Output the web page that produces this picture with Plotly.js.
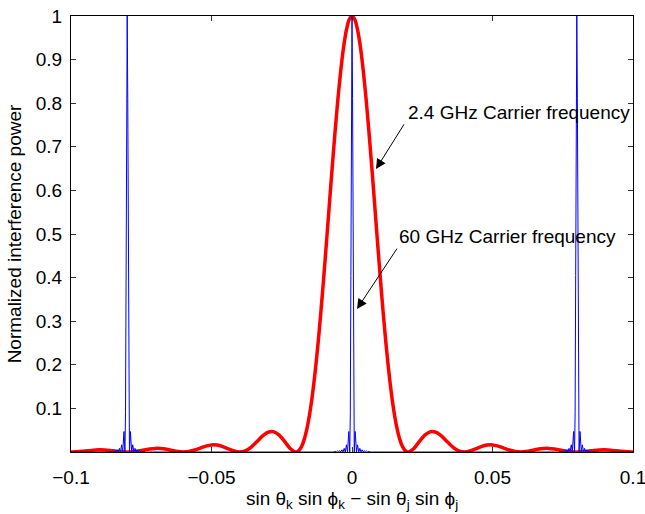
<!DOCTYPE html>
<html>
<head>
<meta charset="utf-8">
<script src="https://cdn.plot.ly/plotly-3.0.1.min.js"></script>
<style>html,body{margin:0;padding:0;background:#fff;}#plot{width:645px;height:514px;}</style>
</head>
<body>
<div id="plot"></div>
<script>
// 2.4 GHz carrier (red)
const redX = [-0.100,-0.098,-0.096,-0.094,-0.092,-0.090,-0.088,-0.086,-0.084,-0.082,-0.080,-0.078,-0.076,-0.074,-0.072,-0.070,-0.068,-0.066,-0.064,-0.062,-0.060,-0.058,-0.056,-0.054,-0.052,-0.050,-0.048,-0.046,-0.044,-0.042,-0.040,-0.038,-0.036,-0.034,-0.032,-0.030,-0.028,-0.026,-0.024,-0.022,-0.020,-0.019,-0.018,-0.017,-0.016,-0.015,-0.014,-0.013,-0.012,-0.011,-0.010,-0.009,-0.008,-0.007,-0.006,-0.005,-0.004,-0.003,-0.002,-0.001,0.000,0.001,0.002,0.003,0.004,0.005,0.006,0.007,0.008,0.009,0.010,0.011,0.012,0.013,0.014,0.015,0.016,0.017,0.018,0.019,0.020,0.022,0.024,0.026,0.028,0.030,0.032,0.034,0.036,0.038,0.040,0.042,0.044,0.046,0.048,0.050,0.052,0.054,0.056,0.058,0.060,0.062,0.064,0.066,0.068,0.070,0.072,0.074,0.076,0.078,0.080,0.082,0.084,0.086,0.088,0.090,0.092,0.094,0.096,0.098,0.100];
const redY = [0.0000,0.0004,0.0015,0.0030,0.0043,0.0050,0.0047,0.0036,0.0020,0.0006,0.0000,0.0006,0.0024,0.0048,0.0071,0.0083,0.0079,0.0061,0.0034,0.0010,0.0000,0.0012,0.0045,0.0091,0.0136,0.0162,0.0159,0.0125,0.0072,0.0022,0.0000,0.0027,0.0108,0.0229,0.0358,0.0450,0.0468,0.0392,0.0243,0.0080,0.0000,0.0028,0.0120,0.0289,0.0547,0.0901,0.1353,0.1904,0.2546,0.3268,0.4053,0.4881,0.5729,0.6566,0.7368,0.8106,0.8751,0.9282,0.9675,0.9918,1.0000,0.9918,0.9675,0.9282,0.8751,0.8106,0.7368,0.6566,0.5729,0.4881,0.4053,0.3268,0.2546,0.1904,0.1353,0.0901,0.0547,0.0289,0.0120,0.0028,0.0000,0.0080,0.0243,0.0392,0.0468,0.0450,0.0358,0.0229,0.0108,0.0027,0.0000,0.0022,0.0072,0.0125,0.0159,0.0162,0.0136,0.0091,0.0045,0.0012,0.0000,0.0010,0.0034,0.0061,0.0079,0.0083,0.0071,0.0048,0.0024,0.0006,0.0000,0.0006,0.0020,0.0036,0.0047,0.0050,0.0043,0.0030,0.0015,0.0004,0.0000];

// 60 GHz carrier (blue): narrow lobes at -0.08, 0, 0.08
const blueX = [-0.1,
-0.0864,-0.0860,-0.0856,-0.0852,-0.0848,-0.0844,-0.0840,-0.08358,-0.0832,-0.08278,-0.0824,-0.08197,-0.0816,-0.08114,-0.0808,-0.0806,-0.0804,-0.0802,-0.0800,-0.0798,-0.0796,-0.0794,-0.0792,-0.07886,-0.0784,-0.07803,-0.0776,-0.07722,-0.0768,-0.07642,-0.0760,-0.0756,-0.0752,-0.0748,-0.0744,-0.0740,-0.0736,
-0.0064,-0.0060,-0.0056,-0.0052,-0.0048,-0.0044,-0.0040,-0.00358,-0.0032,-0.00278,-0.0024,-0.00197,-0.0016,-0.00114,-0.0008,-0.0006,-0.0004,-0.0002,0.0000,0.0002,0.0004,0.0006,0.0008,0.00114,0.0016,0.00197,0.0024,0.00278,0.0032,0.00358,0.0040,0.0044,0.0048,0.0052,0.0056,0.0060,0.0064,
0.0736,0.0740,0.0744,0.0748,0.0752,0.0756,0.0760,0.07642,0.0768,0.07722,0.0776,0.07803,0.0784,0.07886,0.0792,0.0794,0.0796,0.0798,0.0800,0.0802,0.0804,0.0806,0.0808,0.08114,0.0816,0.08197,0.0824,0.08278,0.0832,0.08358,0.0840,0.0844,0.0848,0.0852,0.0856,0.0860,0.0864,
0.1];
const blueY = [0,
0,0.0018,0,0.0024,0,0.0033,0,0.0050,0,0.0083,0,0.0165,0,0.0470,0,0.090,0.405,0.811,1.000,0.811,0.405,0.090,0,0.0470,0,0.0165,0,0.0083,0,0.0050,0,0.0033,0,0.0024,0,0.0018,0,
0,0.0018,0,0.0024,0,0.0033,0,0.0050,0,0.0083,0,0.0165,0,0.0470,0,0.090,0.405,0.811,1.000,0.811,0.405,0.090,0,0.0470,0,0.0165,0,0.0083,0,0.0050,0,0.0033,0,0.0024,0,0.0018,0,
0,0.0018,0,0.0024,0,0.0033,0,0.0050,0,0.0083,0,0.0165,0,0.0470,0,0.090,0.405,0.811,1.000,0.811,0.405,0.090,0,0.0470,0,0.0165,0,0.0083,0,0.0050,0,0.0033,0,0.0024,0,0.0018,0,
0];

const xTickVals = [-0.1,-0.05,0,0.05,0.1];
const xTickText = ['\u22120.1','\u22120.05','0','0.05','0.1'];
const yTickVals = [0.1,0.2,0.3,0.4,0.5,0.6,0.7,0.8,0.9,1];
const yTickText = ['0.1','0.2','0.3','0.4','0.5','0.6','0.7','0.8','0.9','1'];

const FONT = 'Liberation Sans, Arial, Helvetica, sans-serif';
const FS = 19;

const traces = [
  {x: redX, y: redY, type:'scatter', mode:'lines', line:{color:'#ff0000', width:3.5, shape:'spline', smoothing:0.6}, hoverinfo:'skip'},
  {x: blueX, y: blueY, type:'scatter', mode:'lines', line:{color:'#0000ff', width:1}, hoverinfo:'skip'}
];

const layout = {
  width:645, height:514,
  margin:{l:71, r:12, t:16, b:62},
  paper_bgcolor:'#fff', plot_bgcolor:'#fff',
  showlegend:false,
  font:{family:FONT, size:FS, color:'#000'},
  xaxis:{
    range:[-0.1,0.1], tickvals:xTickVals, ticktext:xTickText,
    ticks:'inside', ticklen:5, tickcolor:'#333', tickwidth:1,
    showline:true, linecolor:'#000', linewidth:1, mirror:'allticks',
    showgrid:false, zeroline:false, ticklabelstandoff:8, ticklabeloverflow:'allow',
    tickfont:{family:FONT, size:FS, color:'#000'},
    title:{text:'sin \u03b8<sub>k</sub> sin \u03d5<sub>k</sub> \u2212 sin \u03b8<sub>j</sub> sin \u03d5<sub>j</sub>', font:{family:FONT, size:19, color:'#000'}, standoff:2}
  },
  yaxis:{
    range:[0,1], tickvals:yTickVals, ticktext:yTickText,
    ticks:'inside', ticklen:5, tickcolor:'#333', tickwidth:1,
    showline:true, linecolor:'#000', linewidth:1, mirror:'allticks',
    showgrid:false, zeroline:false, ticklabelstandoff:4, ticklabeloverflow:'allow',
    tickfont:{family:FONT, size:FS, color:'#000'},
    title:{text:'Normalized interference power', font:{family:FONT, size:FS, color:'#000'}, standoff:9}
  },
  annotations:[
    {x:0.00854, y:0.649, ax:0.01886, ay:0.755, axref:'x', ayref:'y', xref:'x', yref:'y', text:'', showarrow:true, arrowhead:2, arrowsize:2, arrowwidth:1, arrowcolor:'#000'},
    {x:0.00178, y:0.328, ax:0.01637, ay:0.470, axref:'x', ayref:'y', xref:'x', yref:'y', text:'', showarrow:true, arrowhead:2, arrowsize:2, arrowwidth:1, arrowcolor:'#000'},
    {x:0.0192, y:0.778, xref:'x', yref:'y', text:'2.4 GHz Carrier frequency', showarrow:false, xanchor:'left', yanchor:'middle', font:{family:FONT, size:FS, color:'#000'}},
    {x:0.0160, y:0.495, xref:'x', yref:'y', text:'60 GHz Carrier frequency', showarrow:false, xanchor:'left', yanchor:'middle', font:{family:FONT, size:FS, color:'#000'}}
  ]
};

Plotly.newPlot('plot', traces, layout, {displayModeBar:false, staticPlot:true});
</script>
</body>
</html>
